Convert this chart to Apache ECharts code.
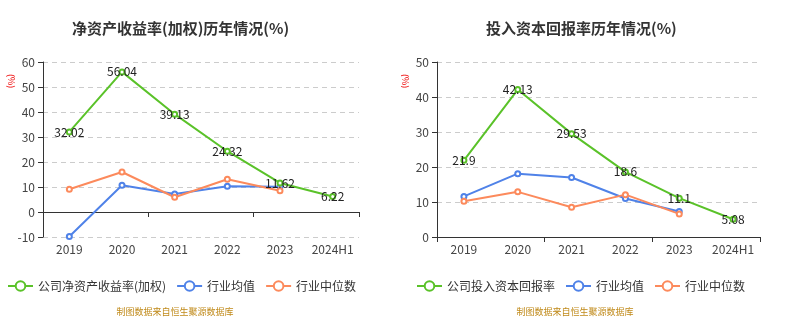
<!DOCTYPE html>
<html>
<head>
<meta charset="utf-8">
<script src="https://cdn.jsdelivr.net/npm/echarts@6/dist/echarts.min.js"></script>
<style>
html,body{margin:0;padding:0;background:#fff;}
.c{width:401px;height:335px;float:left;}
</style>
</head>
<body>
<div id="c1" class="c"></div><div id="c2" class="c"></div>
<script>
const categories = ['2019','2020','2021','2022','2023','2024H1'];
const roeCompany = [32.02, 56.04, 39.13, 24.32, 11.62, 6.22];
const roeIndustryAvg = [-9.8, 10.7, 7.2, 10.3, 10.1, null];
const roeIndustryMedian = [9.1, 16.0, 5.9, 13.1, 8.5, null];
const roicCompany = [21.9, 42.13, 29.53, 18.6, 11.1, 5.08];
const roicIndustryAvg = [11.6, 18.1, 17.0, 11.0, 7.3, null];
const roicIndustryMedian = [10.2, 12.9, 8.5, 12.1, 6.6, null];
const legendNamesROE = ['公司净资产收益率(加权)', '行业均值', '行业中位数'];
const legendNamesROIC = ['公司投入资本回报率', '行业均值', '行业中位数'];

const GREEN = '#5ac229', BLUE = '#4f82e8', ORANGE = '#fc8a5c';
const font = '"Microsoft YaHei", "Noto Sans CJK SC", sans-serif';

function line(name, data, color, withLabel) {
  return { name: name, type: 'line', data: data, xAxisIndex: 0, yAxisIndex: 0,
    symbol: 'emptyCircle', symbolSize: 5,
    lineStyle: { color: color, width: 2 }, itemStyle: { color: color },
    label: withLabel ? { show: true, position: 'inside', color: '#222', fontSize: 12, fontFamily: font } : { show: false },
    z: withLabel ? 3 : 2 };
}

function build(el, cfg) {
  const chart = echarts.init(document.getElementById(el));
  chart.setOption({
    animation: false,
    title: { text: cfg.title, left: cfg.titleLeft, top: 16,
      textStyle: { fontSize: 15, fontWeight: 'bold', color: '#333', fontFamily: font } },
    legend: { data: cfg.names, left: cfg.legendLeft, top: 275, itemWidth: 25, itemHeight: 12, itemGap: 10,
      textStyle: { color: '#333', fontSize: 12, fontFamily: font }, selectedMode: false },
    grid: { left: cfg.gridLeft, right: cfg.gridRight, top: 62, bottom: 98 },
    xAxis: [
      { type: 'category', data: categories,
        axisLine: { onZero: true, lineStyle: { color: '#333' } },
        axisTick: { show: true, lineStyle: { color: '#333' } },
        axisLabel: { show: false }, splitLine: { show: false } },
      { type: 'category', data: categories, position: 'bottom',
        axisLine: { show: false, onZero: false }, axisTick: { show: false },
        axisLabel: { color: '#444', fontSize: 12, margin: 6, interval: 0, fontFamily: font }, splitLine: { show: false } }
    ],
    yAxis: { type: 'value', min: cfg.min, max: cfg.max, interval: 10,
      axisLine: { show: true, lineStyle: { color: '#333' } },
      axisTick: { show: true, lineStyle: { color: '#333' } },
      axisLabel: { color: '#444', fontSize: 12, fontFamily: font },
      splitLine: { lineStyle: { color: '#ccc', type: [5, 4] } } },
    series: [
      line(cfg.names[0], cfg.company, GREEN, true),
      line(cfg.names[1], cfg.avg, BLUE, false),
      line(cfg.names[2], cfg.median, ORANGE, false)
    ],
    graphic: [
      { type: 'text', x: cfg.pctX, y: 74, rotation: -Math.PI / 2, style: { text: '(%)', fill: '#e00', fontSize: 9, fontFamily: font } },
      { type: 'text', x: cfg.srcX, y: 312, style: { text: '制图数据来自恒生聚源数据库', fill: '#c08a1a', fontSize: 9, align: 'center', verticalAlign: 'middle', fontFamily: font } }
    ]
  });
}

build('c1', { title: '净资产收益率(加权)历年情况(%)', titleLeft: 67, names: legendNamesROE, legendLeft: 2,
  gridLeft: 43, gridRight: 42, min: -10, max: 60, company: roeCompany, avg: roeIndustryAvg, median: roeIndustryMedian,
  pctX: 16, srcX: 175 });
build('c2', { title: '投入资本回报率历年情况(%)', titleLeft: 80, names: legendNamesROIC, legendLeft: 10,
  gridLeft: 36, gridRight: 42, min: 0, max: 50, company: roicCompany, avg: roicIndustryAvg, median: roicIndustryMedian,
  pctX: 410 - 401, srcX: 174 });
</script>
</body>
</html>
